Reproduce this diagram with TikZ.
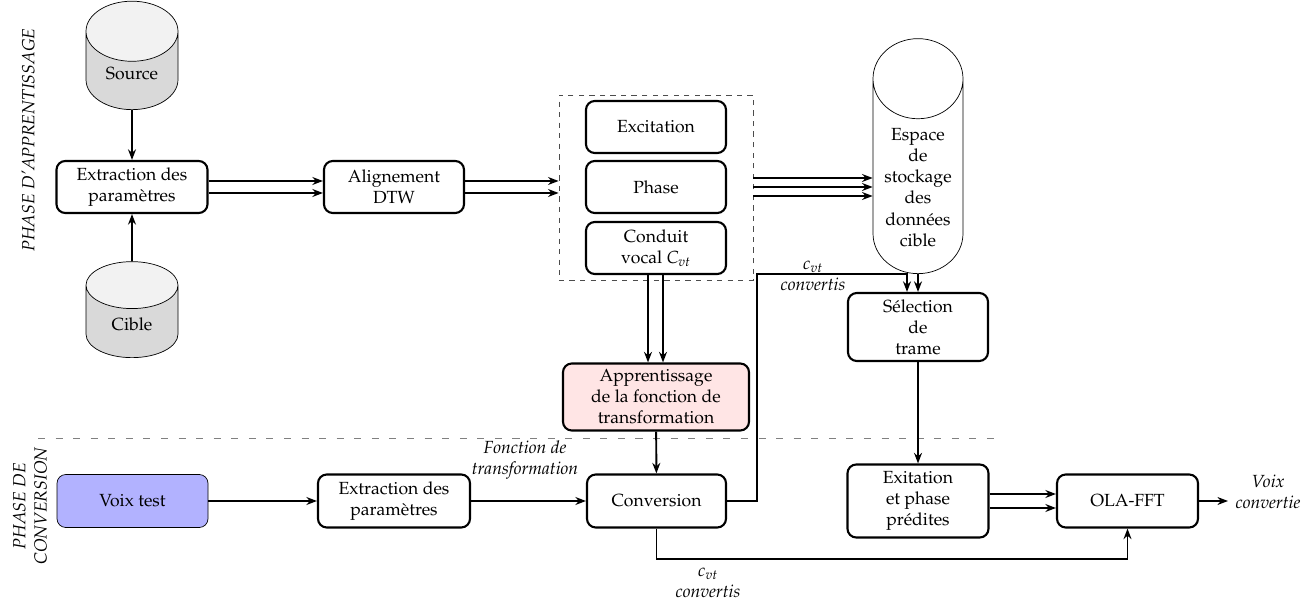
\documentclass[tikz,border=0pt]{standalone}
\usepackage[T1]{fontenc}
\usepackage{mathpazo}
\usetikzlibrary{shapes, arrows.meta, positioning, fit}

\tikzset{
    block/.style={draw, very thick, rounded corners=5pt, align=center, minimum width=2.8cm, minimum height=1.04cm, inner sep=2pt},
    database/.style={cylinder, shape border rotate=90, draw, aspect=1.15, cylinder uses custom fill, cylinder body fill=gray!30, cylinder end fill=gray!10, minimum width=1.84cm, minimum height=1.92cm, inner sep=0pt, text height=10pt, anchor=south},
    link/.style={line width=1.1pt, -{Stealth[length=6pt, width=4.5pt]}},
    note/.style={font=\itshape, align=center},
}

\begin{document}
\begin{tikzpicture}

    \useasboundingbox (0,0) rectangle (26.04,-12.02);

    % Phases
    \node[note, rotate=90] (learnphase) at (0.56,-2.8) {PHASE D'APPRENTISSAGE};
    \node[note, rotate=90] (convphase) at (0.6,-10.12) {PHASE DE\\CONVERSION};
    \draw[gray, dash pattern=on 4pt off 6pt] (0.76,-8.76) -- (19.96,-8.76);

    % Learning
    \node[database] (source) at (2.64,-2.2) {Source};
    \node[database] (cible) at (2.64,-7.16) {Cible};
    \node[block, minimum width=3.02cm] (extract) at (2.64,-3.74) {Extraction des\\paramètres};
    \node[block] (align) at (7.88,-3.74) {Alignement\\DTW};

    \node[block] (excit) at (13.12,-2.54) {Excitation};
    \node[block] (phase) at (13.12,-3.74) {Phase};
    \node[block] (conduit) at (13.12,-4.96) {Conduit\\vocal $C_{vt}$};
    \node[draw, dashed, black!70, inner xsep=0.52cm, inner ysep=0.1cm, fit=(excit)(conduit)] (params) {};

    \node[cylinder, shape border rotate=90, draw, aspect=0.89, minimum width=1.8cm, minimum height=4.7cm, inner sep=0.9cm, anchor=south] (store) at (18.36,-5.48) {};
    \node[align=center] (storetext) at (18.36,-3.75) {Espace\\de\\stockage\\des\\données\\cible};
    \node[block, minimum height=1.36cm] (select) at (18.36,-6.54) {Sélection\\de\\trame};
    \node[block, fill=red!10, minimum width=3.72cm, minimum height=1.34cm] (learn) at (13.12,-7.94) {Apprentissage\\de la fonction de\\transformation};

    % Conversion
    \node[block, thin, fill=blue!30, minimum width=3.02cm, minimum height=1.06cm] (voice) at (2.65,-10.02) {Voix test};
    \node[block, minimum width=3.04cm, minimum height=1.06cm] (extract2) at (7.88,-10.02) {Extraction des\\paramètres};
    \node[block, minimum width=2.78cm, minimum height=1.06cm] (conv) at (13.13,-10.02) {Conversion};
    \node[block, minimum width=2.82cm, minimum height=1.46cm] (predict) at (18.36,-10.02) {Exitation\\et phase\\prédites};
    \node[block, minimum width=2.82cm, minimum height=1.06cm] (ola) at (22.55,-10.02) {OLA-FFT};
    \coordinate (out) at (24.56,-10.02);
    \coordinate (turn) at (15.14,-5.48);

    % Arrows
    \draw[link] (source) -- (extract);
    \draw[link] (cible) -- (extract);
    \foreach \dy in {0.12,-0.12} {
        \draw[link] ([yshift=\dy cm]extract.east) -- ([yshift=\dy cm]align.west);
        \draw[link] ([yshift=\dy cm]align.east) -- ([yshift=\dy cm]align.east -| params.west);
    }
    \foreach \dy in {0.18,0,-0.18}
        \draw[link] ([yshift=\dy cm]phase.east -| params.east) -- ([yshift=\dy cm]phase.east -| store.west);
    \foreach \dx in {-0.16,0.14}
        \draw[link] ([xshift=\dx cm]conduit.south) -- ([xshift=\dx cm]learn.north);
    \draw[link] (store.south) -- (select.north -| store.south);
    \draw[link] (select) -- (predict);
    \draw[link] (learn) -- (conv);
    \draw[link] (voice) -- (extract2);
    \draw[link] (extract2) -- (conv);
    \draw[link] (conv.east) -| (turn) -| ([xshift=-0.22cm]select.north);
    \draw[link] (conv.south) -- ++(0,-0.6) -| (ola.south);
    \foreach \dy in {0.14,-0.14}
        \draw[link] ([yshift=\dy cm]predict.east) -- ([yshift=\dy cm]ola.west);
    \draw[link] (ola) -- (out);

    % labels
    \node[note] (fctlabel) at (10.5,-9.2) {Fonction de\\transformation};
    \node[note] (cvtlabel) at (16.26,-5.52) {$c_{vt}$\\convertis};
    \node[note] (cvtlabel2) at (14.16,-11.66) {$c_{vt}$\\convertis};
    \node[note] (outlabel) at (25.36,-9.84) {Voix\\convertie};

\end{tikzpicture}
\end{document}
